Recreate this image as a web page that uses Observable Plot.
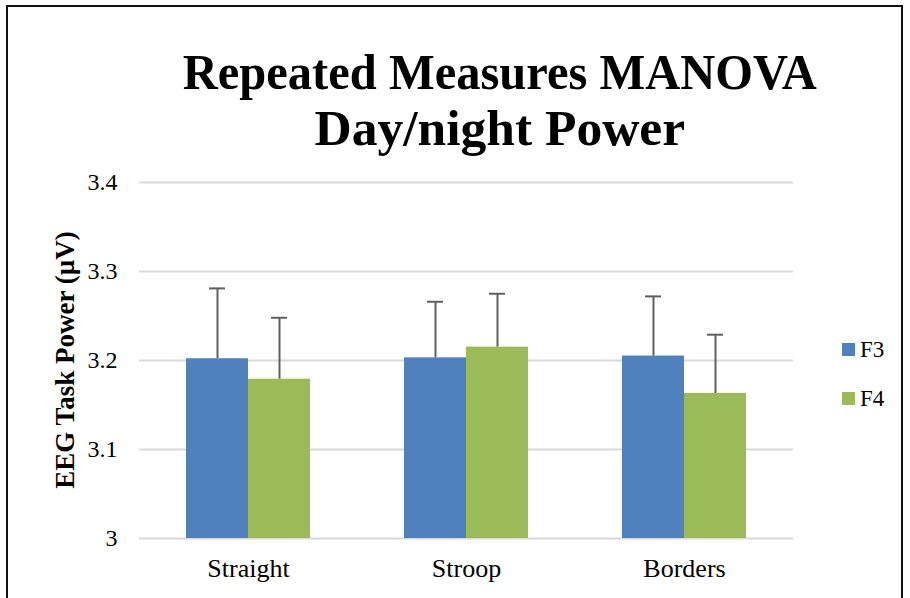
<!DOCTYPE html>
<html><head><meta charset="utf-8">
<script src="https://cdn.jsdelivr.net/npm/d3@7"></script>
<script src="https://cdn.jsdelivr.net/npm/@observablehq/plot@0.6"></script>
<style>
body{margin:0;background:#fff;width:910px;height:598px;overflow:hidden;position:relative;font-family:"Liberation Serif",serif}
#frame{position:absolute;left:6px;top:5px;width:897px;height:640px;border:2px solid #111;box-sizing:border-box}
#title{position:absolute;left:100px;width:800px;top:44px;text-align:center;font-weight:bold;font-size:50px;line-height:56px;color:#000;white-space:nowrap}
#title span{display:inline-block}
#ylabel{position:absolute;left:65px;top:360px;transform:translate(-50%,-50%) rotate(-90deg);white-space:nowrap;font-weight:bold;font-size:27px;color:#000}
#chart{position:absolute;left:0;top:0}
#chart [aria-label^="fx-axis"] text{font-size:26px}
#legend{position:absolute;left:842px;top:336px;font-size:23px;color:#000}
#legend .item{display:flex;align-items:center;height:27px;margin-bottom:22px}
#legend .sw{width:13px;height:13px;margin-right:5px}
</style></head>
<body>
<div id="frame"></div>
<div id="title"><span style="transform:scaleX(0.97)">Repeated Measures MANOVA</span><br><span style="transform:scaleX(1.03)">Day/night Power</span></div>
<div id="ylabel">EEG Task Power (µV)</div>
<div id="chart"></div>
<div id="legend"></div>
<script>
const categories = ["Straight", "Stroop", "Borders"];
const series = ["F3", "F4"];
const f3Values = [3.202, 3.203, 3.205];
const f4Values = [3.179, 3.215, 3.163];
const f3Errors = [0.079, 0.063, 0.067];
const f4Errors = [0.069, 0.060, 0.066];
const yTicks = [3, 3.1, 3.2, 3.3, 3.4];
const colors = ["#4f81bd", "#9bbb59"];

const rows = [];
categories.forEach((c, i) => {
  rows.push({category: c, series: "F3", value: f3Values[i], err: f3Errors[i]});
  rows.push({category: c, series: "F4", value: f4Values[i], err: f4Errors[i]});
});

const chart = Plot.plot({
  width: 910,
  height: 598,
  marginLeft: 139,
  marginRight: 117,
  marginTop: 182,
  marginBottom: 60,
  style: "font-family: 'Liberation Serif', serif; font-size: 24px; color: #000; background: transparent; overflow: visible;",
  fx: {domain: categories, paddingInner: 0.431, paddingOuter: 0.2155, label: null, axis: "bottom", tickSize: 0, tickPadding: 20},
  x: {domain: series, padding: 0, axis: null},
  y: {domain: [3, 3.4], ticks: yTicks, tickFormat: d => String(+d.toFixed(1)), tickSize: 0, tickPadding: 69, label: null},
  color: {domain: series, range: colors},
  marks: [
    Plot.ruleY(yTicks, {stroke: "#d9d9d9", strokeWidth: 2, insetLeft: -47, insetRight: -47}),
    Plot.barY(rows, {fx: "category", x: "series", y1: 3, y2: "value", fill: "series"}),
    Plot.ruleX(rows, {fx: "category", x: "series", y1: "value", y2: d => d.value + d.err, stroke: "#5f5f5f", strokeWidth: 2}),
    Plot.tickY(rows, {fx: "category", x: "series", y: d => d.value + d.err, stroke: "#5f5f5f", strokeWidth: 2, insetLeft: 23, insetRight: 23})
  ]
});
document.getElementById("chart").appendChild(chart);

const legend = document.getElementById("legend");
series.forEach((s, i) => {
  const item = document.createElement("div");
  item.className = "item";
  item.innerHTML = `<div class="sw" style="background:${colors[i]}"></div><span>${s}</span>`;
  legend.appendChild(item);
});
</script>
</body></html>
